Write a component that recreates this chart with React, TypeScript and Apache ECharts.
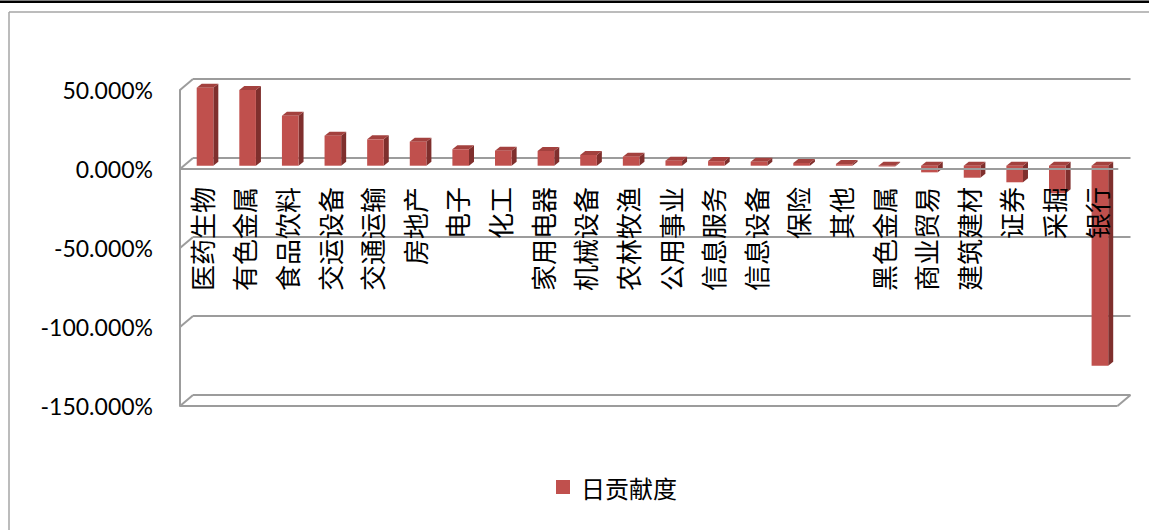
import React, { useEffect, useRef } from "react";
import * as echarts from "echarts";

const categories = [
  "医药生物", "有色金属", "食品饮料", "交运设备", "交通运输", "房地产", "电子", "化工",
  "家用电器", "机械设备", "农林牧渔", "公用事业", "信息服务", "信息设备", "保险", "其他",
  "黑色金属", "商业贸易", "建筑建材", "证券", "采掘", "银行",
];
const contribution = [
  49.4, 47.9, 31.6, 19.0, 16.7, 15.2, 10.4, 9.5, 9.3, 6.8, 5.7, 3.2, 2.9, 2.5, 1.7, 1.0,
  -0.5, -4.2, -7.6, -10.5, -17.5, -126.6,
];
const yTicks = [50, 0, -50, -100, -150];
const seriesName = "日贡献度";

const FRONT = "#C0504D";
const TOP = "#A3413E";
const SIDE = "#7F2F2D";
const GRID = "#9c9c9c";

export default function App() {
  const ref = useRef<HTMLDivElement>(null);
  useEffect(() => {
    if (!ref.current) return;
    const chart = echarts.init(ref.current, null, { renderer: "svg" });
    const depthX = 13;
    const depthY = -11;
    chart.setOption({
      animation: false,
      backgroundColor: "#ffffff",
      graphic: [
        { type: "rect", shape: { x: 0, y: 0.5, width: 1149, height: 2.5 }, style: { fill: "#000" }, z: 100 },
        { type: "line", shape: { x1: 9, y1: 12, x2: 1149, y2: 12 }, style: { stroke: "#a6a6a6", lineWidth: 1.5 } },
        { type: "line", shape: { x1: 9, y1: 12, x2: 9, y2: 530 }, style: { stroke: "#a6a6a6", lineWidth: 1.5 } },
      ],
      legend: {
        data: [seriesName],
        left: 556,
        top: 475,
        padding: 0,
        itemWidth: 14,
        itemHeight: 14,
        icon: "rect",
        textStyle: {
          fontFamily: "Noto Sans CJK SC",
          fontSize: 24,
          color: "#000",
          padding: [0, 0, 0, 6],
        },
      },
      grid: {
        left: 180,
        right: 31.5,
        top: 90,
        bottom: 124,
        outerBoundsMode: "none",
      },
      xAxis: {
        type: "category",
        data: categories,
        position: "bottom",
        offset: -237,
        z: 10,
        axisLine: { show: true, onZero: false, lineStyle: { color: GRID, width: 2 } },
        axisTick: { show: false },
        axisLabel: {
          rotate: 90,
          interval: 0,
          margin: 18,
          fontFamily: "Noto Sans CJK SC",
          fontSize: 26,
          color: "#000",
        },
        splitLine: { show: false },
      },
      yAxis: {
        type: "value",
        min: -150,
        max: 50,
        interval: 50,
        axisLine: { show: true, lineStyle: { color: GRID, width: 2 } },
        axisTick: { show: false },
        splitLine: { show: false },
        axisLabel: {
          margin: 27,
          fontFamily: "Lato",
          fontSize: 23,
          color: "#000",
          formatter: (v: number) => v.toFixed(3) + "%",
        },
      },
      series: [
        {
          type: "custom",
          z: 1,
          silent: true,
          clip: false,
          data: yTicks.map((t) => [0, t]),
          encode: { x: 0, y: 1 },
          renderItem: (params: any, api: any) => {
            const cs = params.coordSys;
            const val = api.value(1);
            const y = api.coord([0, val])[1];
            const x0 = cs.x;
            const x1 = cs.x + cs.width;
            const ls = { stroke: GRID, lineWidth: 2, fill: null };
            const children: any[] = [
              { type: "line", shape: { x1: x0 + depthX, y1: y + depthY, x2: x1 + depthX, y2: y + depthY }, style: ls },
              { type: "line", shape: { x1: x0, y1: y, x2: x0 + depthX, y2: y + depthY }, style: ls },
            ];
            if (val === -150) {
              children.push({ type: "line", shape: { x1: x0, y1: y, x2: x1, y2: y }, style: ls });
              children.push({ type: "line", shape: { x1: x1, y1: y, x2: x1 + depthX, y2: y + depthY }, style: ls });
            }
            return { type: "group", children };
          },
        },
        {
          type: "custom",
          name: seriesName,
          z: 2,
          clip: false,
          itemStyle: { color: FRONT },
          data: contribution.map((v, i) => [i, v]),
          encode: { x: 0, y: 1 },
          renderItem: (params: any, api: any) => {
            const i = api.value(0);
            const v = api.value(1);
            const base = api.coord([i, 0]);
            const tip = api.coord([i, v]);
            const band = api.size([1, 0])[0];
            const cx = base[0];
            const xL = cx - band * 0.108;
            const w = band * 0.39;
            const xR = xL + w;
            const dy = -3.3;
            const y0 = base[1] + dy;
            const y1 = tip[1] + dy;
            const yHi = Math.min(y0, y1);
            const yLo = Math.max(y0, y1);
            const ox = 5;
            const oy = -4;
            return {
              type: "group",
              children: [
                {
                  type: "polygon",
                  shape: { points: [[xR, yHi], [xR + ox, yHi + oy], [xR + ox, yLo + oy], [xR, yLo]] },
                  style: { fill: SIDE },
                },
                {
                  type: "polygon",
                  shape: { points: [[xL, yHi], [xR, yHi], [xR + ox, yHi + oy], [xL + ox, yHi + oy]] },
                  style: { fill: TOP },
                },
                {
                  type: "rect",
                  shape: { x: xL, y: yHi, width: w, height: Math.max(yLo - yHi, 0.5) },
                  style: { fill: FRONT },
                },
              ],
            };
          },
        },
      ],
    });
    return () => chart.dispose();
  }, []);
  return (
    <div
      ref={ref}
      style={{ position: "fixed", left: 0, top: 0, width: 1149, height: 530 }}
    />
  );
}
